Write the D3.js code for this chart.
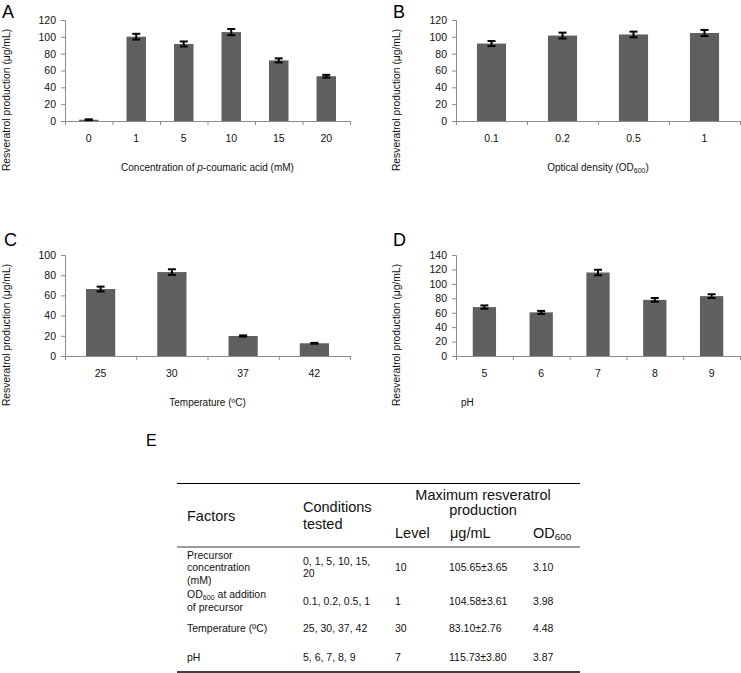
<!DOCTYPE html>
<html>
<head>
<meta charset="utf-8">
<script src="https://cdn.jsdelivr.net/npm/d3@7"></script>
<style>
  html, body { margin: 0; padding: 0; background: #fff; }
  svg { display: block; font-family: "Liberation Sans", Arial, sans-serif; }
</style>
</head>
<body>
<svg id="chart" width="741" height="673"></svg>
<script>
// ---- Data ----
const catsA = ["0", "1", "5", "10", "15", "20"];
const valsA = [1.5, 100.2, 91.5, 105.65, 72.0, 53.2];
const errA  = [0.5, 3.4, 3.0, 3.65, 2.4, 1.6];

const catsB = ["0.1", "0.2", "0.5", "1"];
const valsB = [92.0, 101.5, 102.8, 104.58];
const errB  = [3.0, 3.5, 3.4, 3.61];

const catsC = ["25", "30", "37", "42"];
const valsC = [66.3, 83.10, 19.8, 12.6];
const errC  = [2.4, 2.76, 0.6, 0.4];

const catsD = ["5", "6", "7", "8", "9"];
const valsD = [67.8, 60.5, 115.73, 77.8, 83.0];
const errD  = [2.3, 2.0, 3.80, 2.6, 2.6];

const yTicksA = [0, 20, 40, 60, 80, 100, 120];
const yTicksB = [0, 20, 40, 60, 80, 100, 120];
const yTicksC = [0, 20, 40, 60, 80, 100];
const yTicksD = [0, 20, 40, 60, 80, 100, 120, 140];

const tableFactors = [["Precursor", "concentration", "(mM)"], ["OD600 at addition", "of precursor"], ["Temperature (ºC)"], ["pH"]];
const tableConditions = [["0, 1, 5, 10, 15,", "20"], ["0.1, 0.2, 0.5, 1"], ["25, 30, 37, 42"], ["5, 6, 7, 8, 9"]];
const tableLevel = ["10", "1", "30", "7"];
const tableProd = ["105.65±3.65", "104.58±3.61", "83.10±2.76", "115.73±3.80"];
const tableOD = ["3.10", "3.98", "4.48", "3.87"];

// ---- Drawing ----
const svg = d3.select("#chart");
const axisColor = "#8c8c8c";
const barColor = "#5f5f5f";
const yTitle = "Resveratrol production (μg/mL)";

function panel(opt) {
  const g = svg.append("g");
  const x = d3.scaleBand().domain(opt.cats).range([opt.x0, opt.x1]).padding(0);
  const y = d3.scaleLinear().domain([0, d3.max(opt.ticks)]).range([opt.y1, opt.y0]);
  const bw = x.bandwidth() * 0.41;

  // y axis
  const ya = g.append("g").attr("transform", `translate(${opt.x0},0)`)
    .call(d3.axisLeft(y).tickValues(opt.ticks).tickSize(4).tickPadding(5).tickFormat(d3.format("d")));
  ya.select(".domain").attr("stroke", axisColor);
  ya.selectAll(".tick line").attr("stroke", axisColor);
  ya.selectAll(".tick text").attr("font-size", 10.5).attr("fill", "#111")
    .attr("font-family", "'Liberation Sans', Arial, sans-serif");

  // x axis line and boundary ticks
  g.append("line").attr("x1", opt.x0).attr("x2", opt.x1).attr("y1", opt.y1 + 0.5).attr("y2", opt.y1 + 0.5)
    .attr("stroke", axisColor);
  const bounds = opt.cats.map(c => x(c)).concat([opt.x1]);
  g.selectAll(".xt").data(bounds).join("line")
    .attr("x1", d => d + 0.5).attr("x2", d => d + 0.5)
    .attr("y1", opt.y1).attr("y2", opt.y1 + 4).attr("stroke", axisColor);

  // x tick labels
  g.selectAll(".xl").data(opt.cats).join("text")
    .attr("x", d => x(d) + x.bandwidth() / 2).attr("y", opt.y1 + 21)
    .attr("text-anchor", "middle").attr("font-size", 10.5).attr("fill", "#111")
    .text(d => d);

  // bars
  g.selectAll(".bar").data(opt.vals).join("rect")
    .attr("x", (d, i) => x(opt.cats[i]) + (x.bandwidth() - bw) / 2)
    .attr("width", bw)
    .attr("y", d => y(d))
    .attr("height", d => y(0) - y(d))
    .attr("fill", barColor);

  // error bars
  const eb = g.selectAll(".eb").data(opt.vals).join("g")
    .attr("transform", (d, i) => `translate(${x(opt.cats[i]) + x.bandwidth() / 2},0)`);
  eb.append("line").attr("y1", (d, i) => y(d + opt.errs[i])).attr("y2", (d, i) => y(d - opt.errs[i]))
    .attr("stroke", "#000").attr("stroke-width", 2);
  eb.append("line").attr("x1", -4).attr("x2", 4)
    .attr("y1", (d, i) => y(d + opt.errs[i])).attr("y2", (d, i) => y(d + opt.errs[i]))
    .attr("stroke", "#000").attr("stroke-width", 2);
  eb.append("line").attr("x1", -4).attr("x2", 4)
    .attr("y1", (d, i) => y(d - opt.errs[i])).attr("y2", (d, i) => y(d - opt.errs[i]))
    .attr("stroke", "#000").attr("stroke-width", 2);

  // y title
  g.append("text")
    .attr("transform", `translate(${opt.ytx},${opt.y0 + 80}) rotate(-90)`)
    .attr("text-anchor", "middle").attr("font-size", 10.3).attr("fill", "#111")
    .text(yTitle);

  // x title
  const xt = g.append("text").attr("font-size", 10).attr("fill", "#111")
    .attr("y", opt.y1 + 50);
  if (opt.xtLeft != null) {
    xt.attr("x", opt.xtLeft).attr("text-anchor", "start");
  } else {
    xt.attr("x", (opt.x0 + opt.x1) / 2).attr("text-anchor", "middle");
  }
  opt.xtitle(xt);

  // panel letter
  g.append("text").attr("x", opt.lx).attr("y", opt.ly).attr("font-size", 18).attr("fill", "#000")
    .text(opt.letter);
}

panel({cats: catsA, vals: valsA, errs: errA, ticks: yTicksA, x0: 65, x1: 350, y0: 20, y1: 121,
  ytx: 10, lx: 2, ly: 18, letter: "A",
  xtitle: t => { t.append("tspan").text("Concentration of ");
                 t.append("tspan").attr("font-style", "italic").text("p");
                 t.append("tspan").text("-coumaric acid (mM)"); }});

panel({cats: catsB, vals: valsB, errs: errB, ticks: yTicksB, x0: 456, x1: 740, y0: 20, y1: 121,
  ytx: 400, lx: 393, ly: 18, letter: "B",
  xtitle: t => { t.append("tspan").text("Optical density (OD");
                 t.append("tspan").attr("font-size", 7).attr("dy", 2).text("600");
                 t.append("tspan").attr("dy", -2).text(")"); }});

panel({cats: catsC, vals: valsC, errs: errC, ticks: yTicksC, x0: 65, x1: 350, y0: 255, y1: 356,
  ytx: 10, lx: 4, ly: 246, letter: "C",
  xtitle: t => { t.text("Temperature (ºC)"); }});

panel({cats: catsD, vals: valsD, errs: errD, ticks: yTicksD, x0: 456, x1: 740, y0: 255, y1: 356,
  ytx: 400, lx: 393, ly: 246, letter: "D", xtLeft: 461,
  xtitle: t => { t.text("pH"); }});

// ---- Table E ----
const tg = svg.append("g").attr("fill", "#111");
svg.append("text").attr("x", 146).attr("y", 446).attr("font-size", 16).attr("fill", "#000").text("E");

tg.append("line").attr("x1", 177).attr("x2", 580).attr("y1", 483.5).attr("y2", 483.5).attr("stroke", "#000").attr("stroke-width", 1);
tg.append("line").attr("x1", 177).attr("x2", 580).attr("y1", 547).attr("y2", 547).attr("stroke", "#9a9a9a").attr("stroke-width", 2);
tg.append("line").attr("x1", 177).attr("x2", 580).attr("y1", 672).attr("y2", 672).attr("stroke", "#000").attr("stroke-width", 1.5);

const H = 14.5, R = 10.5;
function txt(x, y, s, size, anchor) {
  return tg.append("text").attr("x", x).attr("y", y).attr("font-size", size)
    .attr("text-anchor", anchor || "start").text(s);
}
function odText(x, y, size, suffix) {
  const t = tg.append("text").attr("x", x).attr("y", y).attr("font-size", size);
  t.append("tspan").text("OD");
  t.append("tspan").attr("font-size", size * 0.68).attr("dy", size * 0.15).text("600");
  if (suffix) t.append("tspan").attr("dy", -size * 0.15).text(suffix);
  return t;
}
txt(187, 521, "Factors", H);
txt(303, 512, "Conditions", H);
txt(303, 529, "tested", H);
txt(483, 500, "Maximum resveratrol", H, "middle");
txt(483, 515, "production", H, "middle");
txt(395, 538, "Level", H);
txt(450, 538, "μg/mL", H);
odText(533, 538, H);

const colX = [187, 303, 395, 449, 533];
const rowMid = [571, 604.5, 632, 660.5];
const lh = 12.5;
tableFactors.forEach((lines, i) => {
  const top = rowMid[i] - (lines.length - 1) * lh / 2;
  lines.forEach((s, j) => {
    if (s.startsWith("OD600")) odText(colX[0], top + j * lh, R, s.slice(5));
    else txt(colX[0], top + j * lh, s, R);
  });
});
tableConditions.forEach((lines, i) => {
  const top = rowMid[i] - (lines.length - 1) * 11.5 / 2;
  lines.forEach((s, j) => txt(colX[1], top + j * 11.5, s, R));
});
tableLevel.forEach((s, i) => txt(colX[2], rowMid[i], s, R));
tableProd.forEach((s, i) => txt(colX[3], rowMid[i], s, R));
tableOD.forEach((s, i) => txt(colX[4], rowMid[i], s, R));
</script>
</body>
</html>
